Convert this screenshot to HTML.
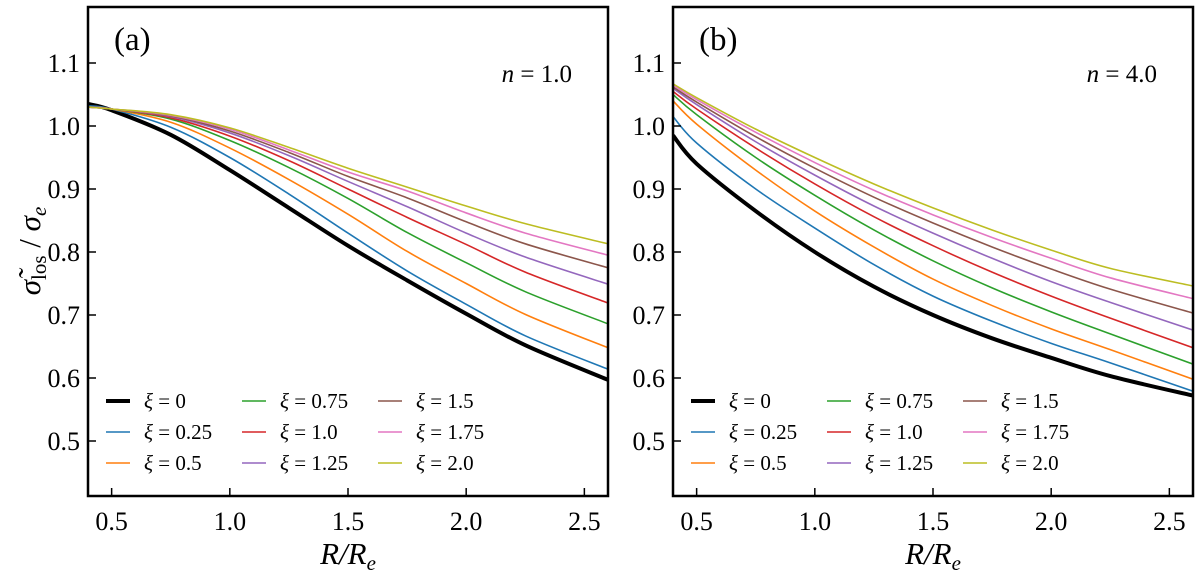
<!DOCTYPE html>
<html><head><meta charset="utf-8"><style>
body{margin:0;background:#fff}
svg text{font-family:"Liberation Serif","DejaVu Serif",serif;fill:#000}
</style></head><body>
<svg id="fig" width="1200" height="579" xmlns="http://www.w3.org/2000/svg"></svg>
<script>
const xs = [0.4,0.5,0.75,1.0,1.25,1.5,1.75,2.0,2.25,2.6];
const xiLabels = ["0","0.25","0.5","0.75","1.0","1.25","1.5","1.75","2.0"];
const colors = ["#000000","#1f77b4","#ff7f0e","#2ca02c","#d62728","#9467bd","#8c564b","#e377c2","#bcbd22"];
const seriesA = [
 [1.035,1.025,0.986,0.93,0.87,0.81,0.755,0.702,0.652,0.597],
 [1.032,1.027,0.998,0.95,0.892,0.83,0.770,0.717,0.667,0.614],
 [1.03,1.027,1.006,0.965,0.915,0.86,0.801,0.750,0.701,0.648],
 [1.03,1.027,1.011,0.977,0.934,0.885,0.831,0.783,0.737,0.686],
 [1.03,1.027,1.013,0.984,0.945,0.9,0.855,0.812,0.768,0.719],
 [1.03,1.027,1.015,0.989,0.953,0.912,0.872,0.830,0.792,0.749],
 [1.03,1.027,1.016,0.992,0.958,0.92,0.886,0.848,0.813,0.775],
 [1.03,1.027,1.017,0.995,0.962,0.927,0.897,0.862,0.830,0.795],
 [1.03,1.027,1.018,0.997,0.966,0.933,0.903,0.873,0.845,0.813]
];
const seriesB = [
 [0.985,0.94,0.865,0.80,0.745,0.70,0.663,0.632,0.603,0.572],
 [1.015,0.973,0.9,0.838,0.78,0.73,0.69,0.655,0.624,0.579],
 [1.04,1.003,0.93,0.865,0.808,0.757,0.715,0.678,0.645,0.598],
 [1.05,1.018,0.95,0.89,0.835,0.786,0.743,0.705,0.67,0.622],
 [1.055,1.027,0.965,0.908,0.856,0.81,0.768,0.73,0.695,0.648],
 [1.06,1.034,0.975,0.922,0.873,0.83,0.79,0.753,0.72,0.676],
 [1.062,1.038,0.983,0.933,0.887,0.846,0.808,0.773,0.741,0.703],
 [1.065,1.042,0.99,0.942,0.898,0.859,0.823,0.79,0.759,0.726],
 [1.067,1.045,0.995,0.95,0.908,0.87,0.835,0.803,0.774,0.746]
];
const xTicks = [0.5,1.0,1.5,2.0,2.5];
const yTicks = [0.5,0.6,0.7,0.8,0.9,1.0,1.1];
const NS="http://www.w3.org/2000/svg";
const svg=document.getElementById('fig');
function mk(t,a,p){const e=document.createElementNS(NS,t);for(const k in a)e.setAttribute(k,a[k]);(p||svg).appendChild(e);return e;}
function smooth(pts){let d=`M${pts[0][0]},${pts[0][1]}`;for(let i=0;i<pts.length-1;i++){const p0=pts[Math.max(0,i-1)],p1=pts[i],p2=pts[i+1],p3=pts[Math.min(pts.length-1,i+2)];
const c1=[p1[0]+(p2[0]-p0[0])/6,p1[1]+(p2[1]-p0[1])/6],c2=[p2[0]-(p3[0]-p1[0])/6,p2[1]-(p3[1]-p1[1])/6];d+=`C${c1[0]},${c1[1]} ${c2[0]},${c2[1]} ${p2[0]},${p2[1]}`;}return d;}
function panel(L,series,tag,nlab,key){
 const R=L+520,T=7,B=496;
 const X=v=>L+(v-0.4)/(2.2)*520, Y=v=>126-(v-1.0)*630;
 const g=mk('g',{});
 const cp=mk('clipPath',{id:'cp'+key},g);mk('rect',{x:L,y:T,width:520,height:B-T},cp);
 series.forEach((s,i)=>{const p=mk('path',{d:smooth(s.map((v,j)=>[X(xs[j]),Y(v)])),fill:'none',stroke:colors[i],'stroke-width':i==0?4:1.6,'clip-path':`url(#cp${key})`},g);
  });
 const fr=mk('rect',{x:L,y:T,width:520,height:B-T,fill:'none',stroke:'#000','stroke-width':2.5},g);
 
 xTicks.forEach(v=>{mk('line',{x1:X(v),x2:X(v),y1:B,y2:B-8,stroke:'#000','stroke-width':1.5},g);
  const t=mk('text',{x:X(v),y:B+34,'font-size':26,'text-anchor':'middle'},g);t.textContent=v.toFixed(1);
  });
 yTicks.forEach(v=>{mk('line',{x1:L,x2:L+8,y1:Y(v),y2:Y(v),stroke:'#000','stroke-width':1.5},g);
  const t=mk('text',{x:L-8,y:Y(v)+9,'font-size':26,'text-anchor':'end'},g);t.textContent=v.toFixed(1);
  });
 const tg=mk('text',{x:L+26,y:50,'font-size':33},g);tg.textContent=tag;
 
 const nl=mk('text',{x:L+484,y:82,'font-size':25,'text-anchor':'end'},g);nl.innerHTML='<tspan font-style="italic">n</tspan> = '+nlab;
 
 const xl=mk('text',{x:L+260,y:564,'font-size':31,'text-anchor':'middle','font-style':'italic'},g);xl.innerHTML='R/R<tspan font-size="21" dy="6">e</tspan>';
 
 for(let i=0;i<9;i++){const c=Math.floor(i/3),r=i%3;const lx=L+18+c*136,ly=401+r*31;
  const le=mk('g',{},g);
  mk('line',{x1:lx,x2:lx+24,y1:ly,y2:ly,stroke:colors[i],'stroke-width':i==0?4:1.6},le);
  const t=mk('text',{x:lx+38,y:ly+7,'font-size':21},le);t.innerHTML='<tspan font-style="italic">ξ</tspan> = '+xiLabels[i];}
}
panel(88,seriesA,'(a)','1.0','a');
panel(673,seriesB,'(b)','4.0','b');
const yl=mk('text',{x:0,y:0,'font-size':31,'text-anchor':'middle',transform:'translate(40,251) rotate(-90)'});
yl.innerHTML='<tspan font-style="italic">σ̃</tspan><tspan font-size="21" dy="6">los</tspan><tspan dy="-6"> / </tspan><tspan font-style="italic">σ</tspan><tspan font-size="21" font-style="italic" dy="6">e</tspan>';


</script>
</body></html>
